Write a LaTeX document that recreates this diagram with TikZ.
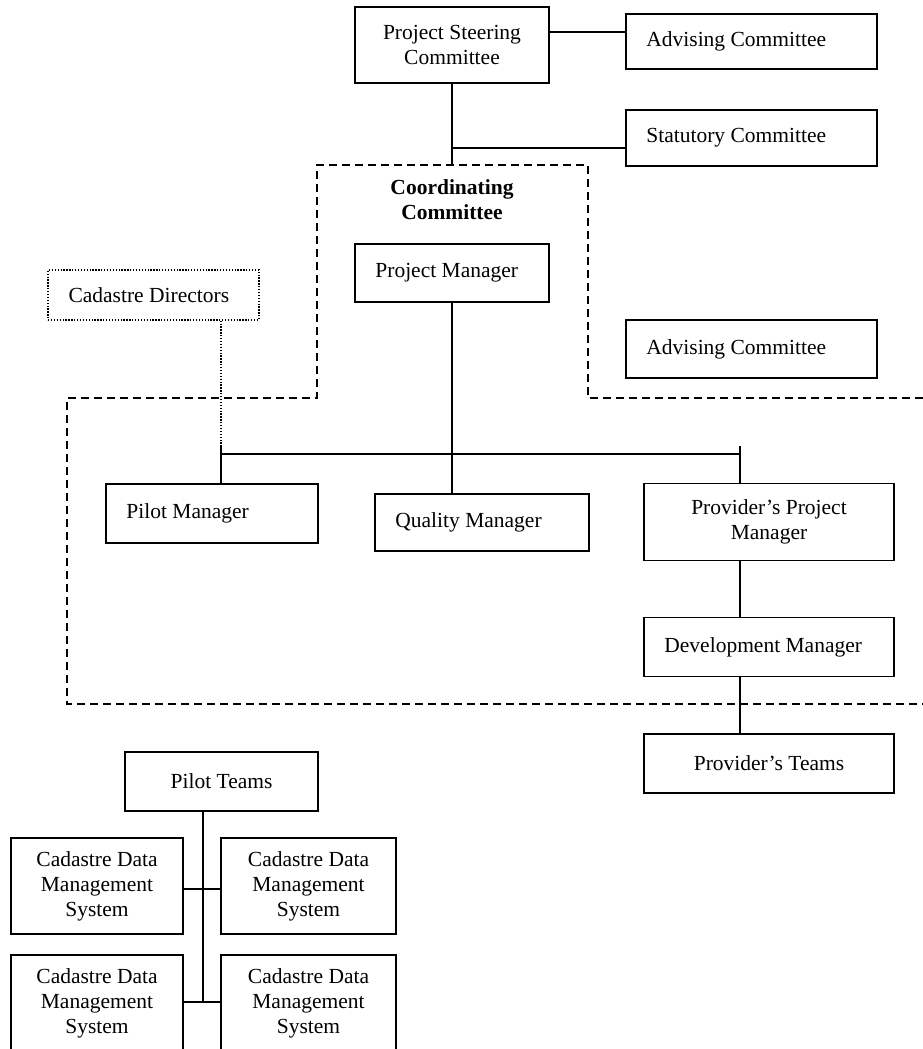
\documentclass[tikz,border=0pt]{standalone}
\usepackage{fontspec}
\setmainfont{Liberation Serif}
\usepackage{tikz}

\newcommand{\tbfont}{\fontsize{21.5}{25}\selectfont}

\tikzset{
    box/.style={draw, line width=1.6pt, inner sep=0pt, align=center, font=\tbfont},
    lbl/.style={anchor=west, xshift=21pt, inner sep=0pt, font=\tbfont},
    lbox/.style={box, label={[lbl]west:#1}},
    link/.style={line width=1.6pt},
    region/.style={line width=1.5pt, dash pattern=on 8pt off 5pt},
    faint/.style={line width=1.3pt, dash pattern=on 1.3pt off 1.6pt},
}

\begin{document}
\begin{tikzpicture}[x=1pt, y=-1pt]
    \useasboundingbox (0, 0) rectangle (923, 1049);
    \fill[white] (0, 0) rectangle (923, 1049);
    \clip (0, 0) rectangle (923, 1049);

    % committees on top
    \node[box, minimum width=194, minimum height=76] (psc) at (452, 45) {Project Steering\\Committee};
    \node[lbox={Advising Committee}, minimum width=251, minimum height=55] (adv1) at (751.5, 41.5) {};
    \node[lbox={Statutory Committee}, minimum width=251, minimum height=56] (stat) at (751.5, 138) {};

    % coordinating committee
    \node[font=\tbfont\bfseries, align=center, inner sep=0pt] (cc) at (452, 200) {Coordinating\\Committee};
    \node[lbox={Project Manager}, minimum width=194, minimum height=58] (pm) at (452, 273) {};
    \node[lbox={Cadastre Directors}, faint, minimum width=211, minimum height=50] (cdir) at (153.5, 295) {};
    \node[lbox={Advising Committee}, minimum width=251, minimum height=58] (adv2) at (751.5, 349) {};

    \node[lbox={Pilot Manager}, minimum width=212, minimum height=59] (pilm) at (212, 513.5) {};
    \node[lbox={Quality Manager}, minimum width=214, minimum height=57] (qm) at (482, 522.5) {};
    \node[box, minimum width=250, minimum height=77] (ppm) at (769, 522) {Provider’s Project\\Manager};
    \node[lbox={Development Manager}, minimum width=250, minimum height=59] (dm) at (769, 647) {};
    \node[box, minimum width=250, minimum height=59] (pt) at (769, 763.5) {Provider’s Teams};

    % pilot side
    \node[box, minimum width=193, minimum height=59] (pilt) at (221.5, 781.5) {Pilot Teams};
    \node[box, minimum width=172, minimum height=96] (cd1) at (97, 886) {Cadastre Data\\Management\\System};
    \node[box, minimum width=175, minimum height=96] (cd2) at (308.5, 886) {Cadastre Data\\Management\\System};
    \node[box, minimum width=172, minimum height=97] (cd3) at (97, 1003.5) {Cadastre Data\\Management\\System};
    \node[box, minimum width=175, minimum height=97] (cd4) at (308.5, 1003.5) {Cadastre Data\\Management\\System};

    \coordinate (top) at (452, 165);
    \coordinate (br) at (452, 148);
    \coordinate (tickL) at (221, 445);
    \coordinate (tickR) at (740, 446);
    \coordinate (barL) at (221, 454);
    \coordinate (barR) at (740, 454);
    \coordinate (j1) at (203, 889);
    \coordinate (j2) at (203, 1002);

    % dashed outline of the coordinating committee
    \draw[region] (923, 398) -- (588, 398) -- (588, 165) -- (317, 165) -- (317, 398)
        -- (67, 398) -- (67, 704) -- (923, 704);

    \draw[link] ([yshift=13pt]psc.east) -- ([yshift=9.5pt]adv1.west);
    \draw[link] (psc.south) -- (top);
    \draw[link] (br) -- (stat.west |- br);

    \draw[link] (pm.south) -- (pm.south |- qm.north);
    \draw[link] (barL) -- (barR);
    \draw[faint] (cdir.south -| tickL) -- (tickL);
    \draw[link] (tickL) -- (tickL |- pilm.north);
    \draw[link] (tickR) -- (tickR |- ppm.north);
    \draw[link] (ppm.south -| tickR) -- (dm.north -| tickR);
    \draw[link] (dm.south -| tickR) -- (pt.north -| tickR);

    \draw[link] (pilt.south -| j2) -- (j2);
    \draw[link] (cd1.east |- j1) -- (cd2.west |- j1);
    \draw[link] (cd3.east |- j2) -- (cd4.west |- j2);
\end{tikzpicture}
\end{document}
